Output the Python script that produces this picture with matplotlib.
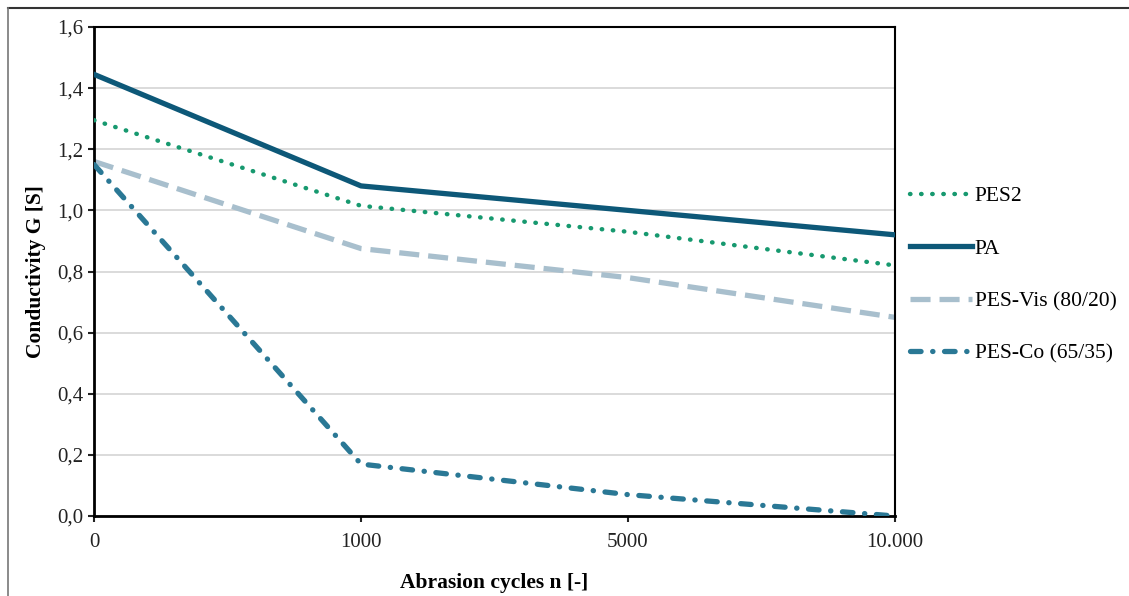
import matplotlib.pyplot as plt
from matplotlib.lines import Line2D
import numpy as np

plt.rcParams['font.family'] = ['Liberation Serif', 'DejaVu Serif']

# data
cycles = ['0', '1000', '5000', '10.000']
pes2 = [1.295, 1.015, 0.93, 0.82]
pa = [1.445, 1.08, 1.0, 0.92]
pes_vis = [1.16, 0.875, 0.78, 0.65]
pes_co = [1.15, 0.17, 0.07, 0.0]
y_ticks = [0.0, 0.2, 0.4, 0.6, 0.8, 1.0, 1.2, 1.4, 1.6]

fig = plt.figure(figsize=(11.29, 5.96), dpi=100)
ax = fig.add_axes([0.0833, 0.1342, 0.7094, 0.8205])

x = np.arange(len(cycles))
ax.plot(x, pes2, color='#17996f', lw=3.2, ls=(0, (0.1, 2.4)),
        dash_capstyle='round', label='PES2', zorder=3)
ax.plot(x, pa, color='#0d5878', lw=3.8, label='PA', zorder=4)
ax.plot(x, pes_vis, color='#a8bfcd', lw=3.8, ls=(0, (3.8, 1.7)),
        label='PES-Vis (80/20)', zorder=2)
ax.plot(x, pes_co, color='#2a7895', lw=3.8, ls=(0, (2.0, 2.2, 0.05, 2.2)),
        dash_capstyle='round', label='PES-Co (65/35)', zorder=3)

ax.set_xlim(0, len(cycles) - 1)
ax.set_ylim(0, 1.6)
ax.set_xticks(x)
ax.set_xticklabels(cycles)
ax.set_yticks(y_ticks)
ax.set_yticklabels([f'{v:.1f}'.replace('.', ',') for v in y_ticks])
ax.yaxis.grid(True, color='#d4d4d4', lw=1.2)
ax.set_axisbelow(True)
ax.tick_params(labelsize=15, colors='#222222', length=4, width=1.5)
ax.tick_params(axis='x', pad=8)

for s in ['left', 'bottom']:
    ax.spines[s].set_linewidth(2)
for s in ['top', 'right']:
    ax.spines[s].set_linewidth(1.5)

ax.set_xlabel('Abrasion cycles n [-]', fontsize=15.5, fontweight='bold', labelpad=15)
ax.set_ylabel('Conductivity G [S]', fontsize=15.5, fontweight='bold', labelpad=8)

leg = ax.legend(loc='upper left', bbox_to_anchor=(1.0, 0.705), frameon=False,
                fontsize=15.5, handlelength=2.9, handletextpad=0.1,
                labelspacing=1.5, borderaxespad=0.3)

# outer frame of the picture
fig.add_artist(Line2D([0.007, 1.0], [0.987, 0.987], color='#333333', lw=1.5,
                      transform=fig.transFigure))
fig.add_artist(Line2D([0.007, 0.007], [0.0, 0.987], color='#777777', lw=1.2,
                      transform=fig.transFigure))

fig.savefig('out.png', dpi=100)
